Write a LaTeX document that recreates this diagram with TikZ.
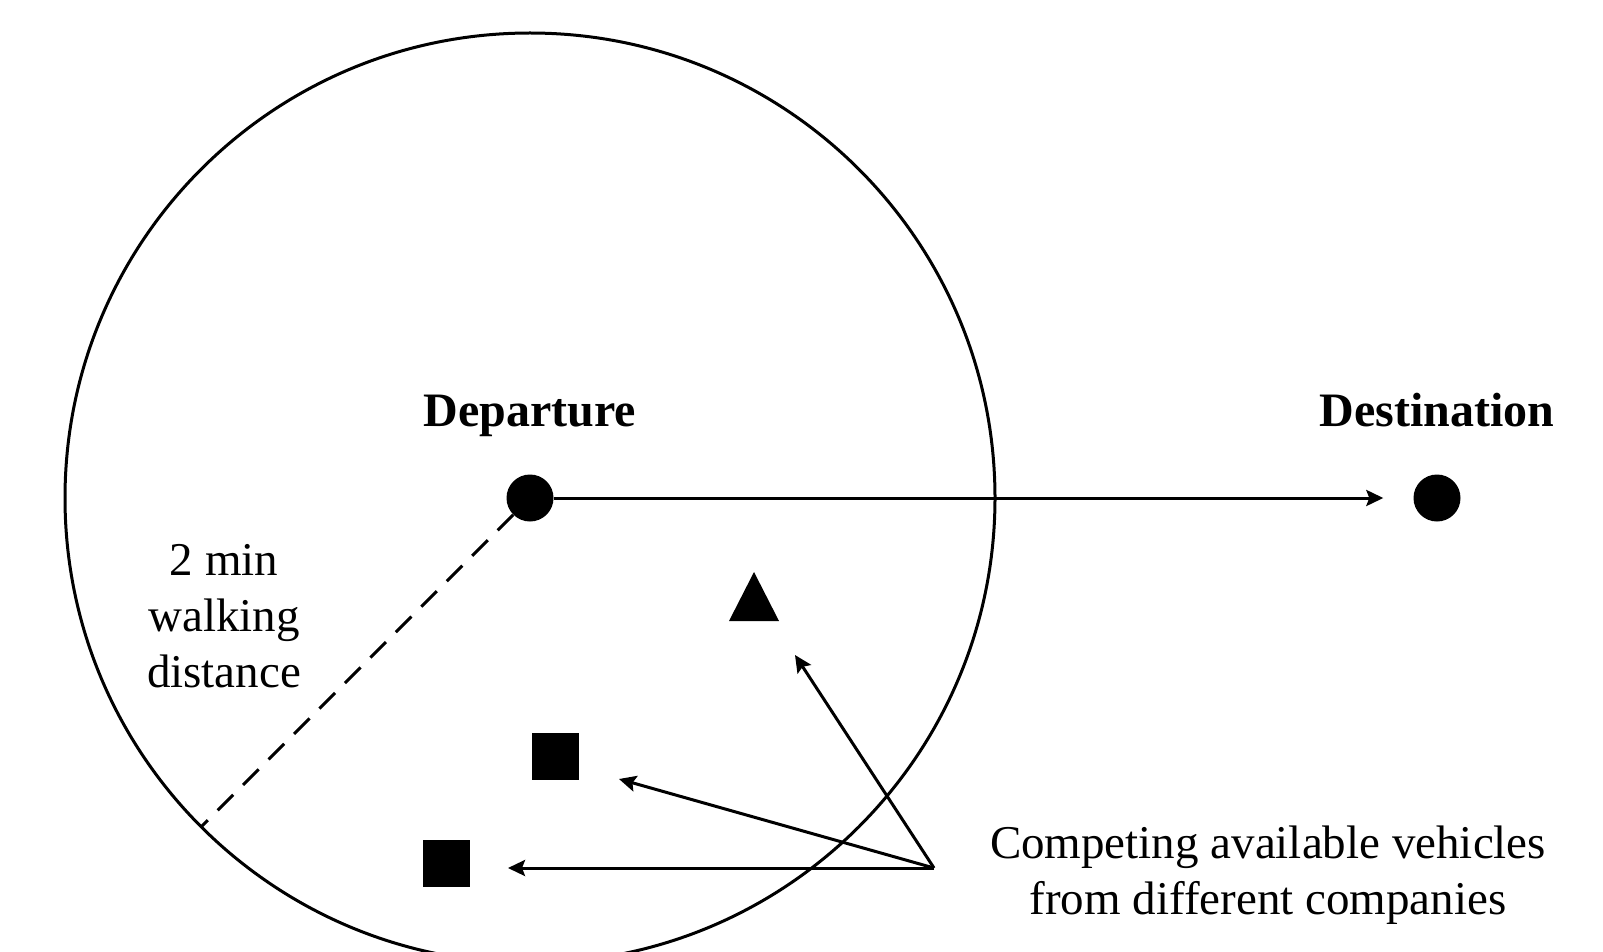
\documentclass[tikz,border=0pt]{standalone}
\usepackage{fontspec}
\setmainfont{Liberation Serif}
\usetikzlibrary{arrows.meta}
\begin{document}
\begin{tikzpicture}[x=1pt,y=-1pt,
  dot/.style={circle,fill,inner sep=0pt,minimum size=47pt},
  veh/.style={fill,inner sep=0pt,minimum size=47pt},
  arr/.style={line width=3pt,-{Stealth[length=17pt,width=16pt,inset=3pt]}},
  lbl/.style={font=\fontsize{47}{56}\selectfont,inner sep=0pt,align=center},
  blbl/.style={font=\fontsize{48}{56}\selectfont\bfseries,inner sep=0pt},
  area/.style={circle,draw,line width=3pt,inner sep=0pt,outer sep=0pt,minimum size=930pt}]
\useasboundingbox (0,0) rectangle (1603,952);
\clip (0,0) rectangle (1603,952);
% circle of walking reach
\node[area] (reach) at (530,498) {};
% departure and destination
\node[dot] (dep) at (530,498) {};
\node[dot] (dest) at (1437,498) {};
\node[blbl,anchor=base] (deplbl) at (530,426) {Departure};
\node[blbl,anchor=base] (destlbl) at (1437,426) {Destination};
\draw[arr] (dep.east) -- ([xshift=-30pt]dest.west);
% radius
\draw[line width=3pt,dash pattern=on 22pt off 14pt] (dep.225) -- (reach.225);
\node[lbl,anchor=base] (walk) at (224,687) {2 min\\walking\\distance};
% vehicles
\fill (754,572) coordinate (triA) -- (729,621) -- (779,621) -- cycle;
\node[veh] (sq1) at (555,756) {};
\node[veh] (sq2) at (446,863) {};
% pointers
\coordinate (src) at (934,868);
\coordinate (tipT) at (795,655);
\coordinate (tip1) at (619,779);
\coordinate (tip2) at (508,868);
\draw[arr] (src) -- (tipT);
\draw[arr] (src) -- (tip1);
\draw[arr] (src) -- (tip2);
\node[lbl,anchor=base] (comp) at (1268,914) {Competing available vehicles\\from different companies};
\end{tikzpicture}
\end{document}
